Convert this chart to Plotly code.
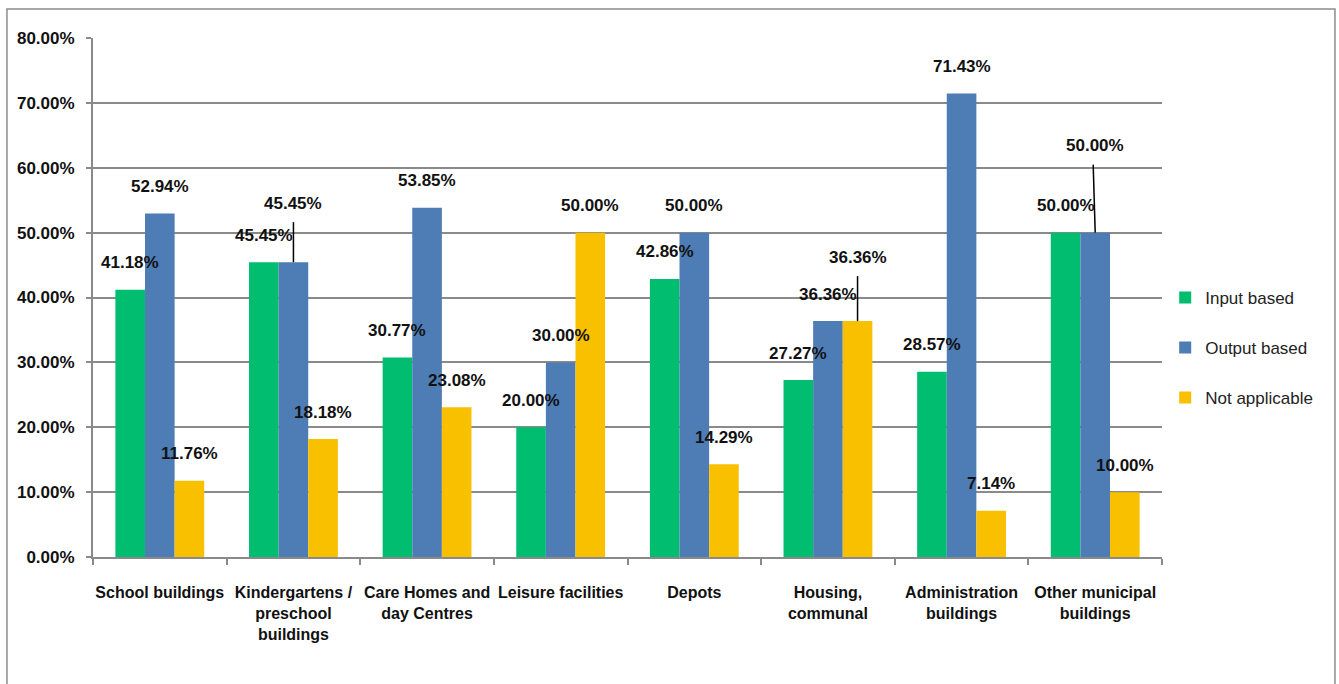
import plotly.graph_objects as go

categories = [
    "School buildings",
    "Kindergartens /<br>preschool<br>buildings",
    "Care Homes and<br>day Centres",
    "Leisure facilities",
    "Depots",
    "Housing,<br>communal",
    "Administration<br>buildings",
    "Other municipal<br>buildings",
]
series_names = ["Input based", "Output based", "Not applicable"]
input_based = [41.18, 45.45, 30.77, 20.00, 42.86, 27.27, 28.57, 50.00]
output_based = [52.94, 45.45, 53.85, 30.00, 50.00, 36.36, 71.43, 50.00]
not_applicable = [11.76, 18.18, 23.08, 50.00, 14.29, 36.36, 7.14, 10.00]
y_ticks = [0, 10, 20, 30, 40, 50, 60, 70, 80]

colors = ["#00BD70", "#4E7CB5", "#F9C000"]
series = [input_based, output_based, not_applicable]

FONT = "Liberation Sans, Arial, sans-serif"
GRID = "#8A8A8A"

BAR_W = 0.2216            # width of one bar in category units
offsets = [-BAR_W, 0.0, BAR_W]
x_idx = list(range(len(categories)))

# labels lifted above the bar top (pixels); a few are moved higher with leader lines
default_lift = 27
moved = {(1, 1): (59, 40, 0), (5, 2): (64, 45, 0), (7, 1): (87, 68, -2)}

fig = go.Figure()
for s, (name, vals, col) in enumerate(zip(series_names, series, colors)):
    fig.add_trace(go.Bar(
        x=x_idx, y=vals, name=name, marker=dict(color=col, line=dict(width=0)),
        offsetgroup=str(s), legendgroup=name, hoverinfo="skip",
    ))

annotations = []
shapes = []
for s, vals in enumerate(series):
    for i, v in enumerate(vals):
        xpos = i + offsets[s]
        lift, line_len, tilt = moved.get((i, s), (default_lift, 0, 0))
        annotations.append(dict(
            x=xpos, y=v, xref="x", yref="y", text=f"{v:.2f}%", showarrow=False,
            yanchor="middle", xanchor="center", yshift=lift,
            font=dict(family=FONT, size=17, color="#111111", weight="bold"),
        ))
        if line_len:
            shapes.append(dict(
                type="line", xref="x", yref="y",
                xsizemode="pixel", xanchor=xpos, x0=0, x1=tilt,
                ysizemode="pixel", yanchor=v, y0=0, y1=line_len,
                line=dict(color="#000000", width=1.5), layer="above",
            ))

# outer frame around the chart
shapes.append(dict(
    type="rect", xref="paper", yref="paper",
    x0=-0.0805, x1=1.1618, y0=-0.3, y1=1.0559,
    line=dict(color="#8C8C8C", width=1.5), fillcolor="rgba(0,0,0,0)", layer="below",
))

fig.update_layout(
    width=1339, height=684,
    margin=dict(l=93, r=177, t=38, b=127, autoexpand=False),
    paper_bgcolor="white", plot_bgcolor="white",
    barmode="group", bargap=1 - 3 * BAR_W, bargroupgap=0,
    font=dict(family=FONT, size=17, color="#111111"),
    annotations=annotations, shapes=shapes,
    legend=dict(
        x=1.003, y=0.403, xanchor="left", yanchor="middle",
        font=dict(family=FONT, size=17, color="#222222"),
        tracegroupgap=25, itemwidth=30, bgcolor="rgba(0,0,0,0)",
    ),
    showlegend=True,
)

fig.update_xaxes(
    range=[-0.5, len(categories) - 0.5], automargin=False,
    tickvals=x_idx, ticktext=[f"<b>{c}</b>" for c in categories],
    ticks="", ticklabelstandoff=20, tickangle=0,
    showline=True, linecolor=GRID, linewidth=2,
    showgrid=False, zeroline=False,
    tickfont=dict(family=FONT, size=16, color="#111111"),
    minor=dict(tickvals=[i - 0.5 for i in range(len(categories) + 1)],
               ticks="outside", ticklen=6, tickcolor=GRID, tickwidth=2),
)
fig.update_yaxes(
    range=[0, 80], automargin=False,
    tickvals=y_ticks, ticktext=[f"{t:.2f}%" for t in y_ticks],
    ticks="outside", ticklen=5, tickcolor=GRID, tickwidth=2, ticklabelstandoff=8,
    showline=True, linecolor=GRID, linewidth=2,
    showgrid=True, gridcolor=GRID, gridwidth=2, zeroline=False,
    tickfont=dict(family=FONT, size=17, color="#111111", weight="bold"),
)

fig.write_html("out.html")
